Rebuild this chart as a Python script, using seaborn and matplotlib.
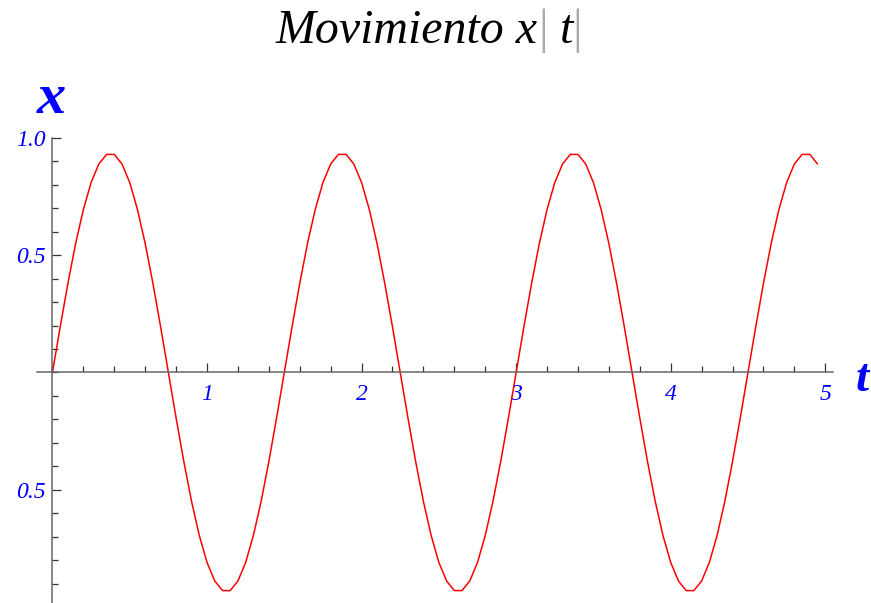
import numpy as np
import pandas as pd
import matplotlib
matplotlib.use("Agg")
import matplotlib.pyplot as plt
from matplotlib.ticker import FixedLocator, MultipleLocator
import seaborn as sns

# Sample times (step 0.05) and the position x(t) at each sample
t_values = np.round(np.arange(100) * 0.05, 2)
x_values = [
    0.000, 0.194, 0.380, 0.550, 0.695, 0.810, 0.889, 0.930, 0.930, 0.889,
    0.810, 0.695, 0.550, 0.380, 0.194, 0.000, -0.194, -0.380, -0.550, -0.695,
    -0.810, -0.889, -0.930, -0.930, -0.889, -0.810, -0.695, -0.550, -0.380, -0.194,
    0.000, 0.194, 0.380, 0.550, 0.695, 0.810, 0.889, 0.930, 0.930, 0.889,
    0.810, 0.695, 0.550, 0.380, 0.194, 0.000, -0.194, -0.380, -0.550, -0.695,
    -0.810, -0.889, -0.930, -0.930, -0.889, -0.810, -0.695, -0.550, -0.380, -0.194,
    0.000, 0.194, 0.380, 0.550, 0.695, 0.810, 0.889, 0.930, 0.930, 0.889,
    0.810, 0.695, 0.550, 0.380, 0.194, 0.000, -0.194, -0.380, -0.550, -0.695,
    -0.810, -0.889, -0.930, -0.930, -0.889, -0.810, -0.695, -0.550, -0.380, -0.194,
    0.000, 0.194, 0.380, 0.550, 0.695, 0.810, 0.889, 0.930, 0.930, 0.889,
]

x_tick_values = [1, 2, 3, 4, 5]
x_tick_labels = ["1", "2", "3", "4", "5"]
y_tick_values = [-0.5, 0.5, 1.0]
y_tick_labels = ["0.5", "0.5", "1.0"]

sns.set_style("white")
plt.rcParams["font.family"] = ["Liberation Serif", "DejaVu Serif"]

W, H = 871, 603
fig = plt.figure(figsize=(W / 100, H / 100), dpi=100)
ax = fig.add_axes([37 / W, 0, (833 - 37) / W, 465 / H])

df = pd.DataFrame({"t": t_values, "x": x_values})
sns.lineplot(data=df, x="t", y="x", color="#ff0000", linewidth=1.1, ax=ax)

ax.set_xlim(-0.1, 5.05)
ax.set_ylim(-0.983, 1.0)
ax.set_xlabel("")
ax.set_ylabel("")

# Axes crossing at the origin
for side in ("top", "right"):
    ax.spines[side].set_visible(False)
for side in ("left", "bottom"):
    ax.spines[side].set_position(("data", 0))
    ax.spines[side].set_color("#666666")
    ax.spines[side].set_linewidth(1.1)

ax.xaxis.set_major_locator(FixedLocator(x_tick_values))
ax.xaxis.set_minor_locator(MultipleLocator(0.2))
ax.yaxis.set_major_locator(FixedLocator(y_tick_values))
ax.yaxis.set_minor_locator(MultipleLocator(0.1))

ax.tick_params(which="both", bottom=True, left=True, top=False, right=False)
ax.tick_params(which="major", direction="in", length=6.5, width=0.9, color="#333333")
ax.tick_params(which="minor", direction="in", length=4.0, width=0.9, color="#333333")
ax.tick_params(axis="x", which="major", pad=8)
ax.tick_params(axis="y", which="major", pad=5)

ax.set_xticklabels(x_tick_labels, fontsize=17, fontstyle="italic", color="#0000ff")
ax.set_yticklabels(y_tick_labels, fontsize=17, fontstyle="italic", color="#0000ff")

# Axis names
fig.text(51 / W, 1 - 113 / H, "x", fontsize=42, fontstyle="italic", fontweight="bold",
         color="#0000ff", ha="center", va="baseline")
fig.text(862 / W, 1 - 391 / H, "t", fontsize=34, fontstyle="italic", fontweight="bold",
         color="#0000ff", ha="center", va="baseline")

# Title, with thin grey bracket bars
title_kw = dict(fontsize=34.5, fontstyle="italic", color="black")
bar_kw = dict(fontsize=34.5, color="#aaaaaa", fontweight="light")
p1 = fig.text(276 / W, 1 - 43 / H, "Movimiento x", va="baseline", **title_kw)
p2 = ax.annotate("|", xy=(1, 0), xycoords=p1, va="bottom", ha="left", **bar_kw)
p3 = ax.annotate(" t", xy=(1, 0), xycoords=p2, va="bottom", ha="left", **title_kw)
p4 = ax.annotate("|", xy=(1, 0), xycoords=p3, va="bottom", ha="left", **bar_kw)

fig.savefig("out.png", dpi=100, facecolor="white")
